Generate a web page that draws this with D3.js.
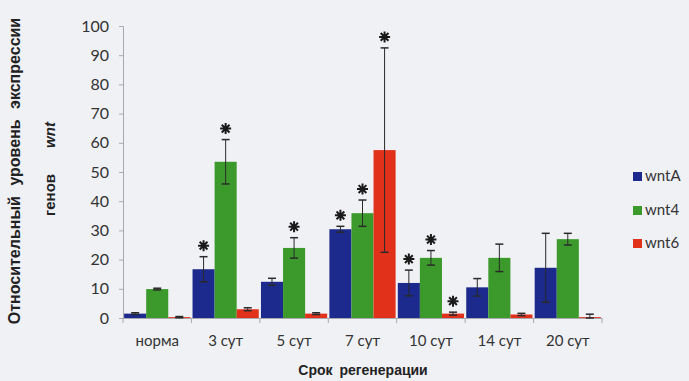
<!DOCTYPE html>
<html><head><meta charset="utf-8">
<script src="https://cdn.jsdelivr.net/npm/d3@7"></script>
<style>body{margin:0;background:#f0f1f5}svg{display:block}</style>
</head><body>
<script>
const categories = ["норма","3 сут","5 сут","7 сут","10 сут","14 сут","20 сут"];
const seriesNames = ["wntA","wnt4","wnt6"];
const wntA = [1.5, 16.7, 12.4, 30.4, 12, 10.5, 17.2];
const wntAerr = [0.3, 4.3, 1.2, 1, 4.4, 3, 11.8];
const wnt4 = [9.9, 53.5, 24, 35.9, 20.6, 20.6, 27];
const wnt4err = [0.3, 7.6, 3.5, 4.5, 2.5, 4.7, 2];
const wnt6 = [0.3, 3, 1.5, 57.5, 1.5, 1.2, 0.3];
const wnt6err = [0.2, 0.5, 0.3, 35, 0.5, 0.4, 1];
const wntAstar = [0,1,0,1,1,0,0];
const wnt4star = [0,1,1,1,1,0,0];
const wnt6star = [0,0,0,1,1,0,0];
const yTicks = [0,10,20,30,40,50,60,70,80,90,100];
const colors = ["#1b2a8c","#3c9a2c","#e2311b"];

const series = [
  {name: seriesNames[0], v: wntA, e: wntAerr, s: wntAstar},
  {name: seriesNames[1], v: wnt4, e: wnt4err, s: wnt4star},
  {name: seriesNames[2], v: wnt6, e: wnt6err, s: wnt6star}
];

const W = 689, H = 381;
const svg = d3.select("body").append("svg").attr("width", W).attr("height", H);
svg.append("rect").attr("width", W).attr("height", H).attr("fill", "#f0f1f5");

const x0 = d3.scaleBand().domain(categories).range([123, 602]).paddingInner(0).paddingOuter(0);
const x1 = d3.scaleBand().domain(seriesNames).range([0, x0.bandwidth()]).paddingOuter(0.05).paddingInner(0);
const y = d3.scaleLinear().domain([0, 100]).range([318, 26]);

// axes
const yAxis = d3.axisLeft(y).tickValues(yTicks).tickSize(4).tickPadding(10);
const gy = svg.append("g").attr("transform", "translate(123,0)").call(yAxis);
gy.select(".domain").attr("stroke", "#a8a8b0");
gy.selectAll(".tick line").attr("stroke", "#a8a8b0");
gy.selectAll(".tick text").attr("font-family", "Lato, sans-serif").attr("font-size", 16).attr("fill", "#333");

const xAxis = d3.axisBottom(x0).tickSize(0).tickPadding(17);
const gx = svg.append("g").attr("transform", "translate(0,318)").call(xAxis);
gx.select(".domain").attr("stroke", "#a8a8b0");
gx.selectAll(".tick text").attr("font-family", "Lato, sans-serif").attr("font-size", 15).attr("fill", "#333");
// category boundary ticks
const bounds = categories.map(c => x0(c)).concat([x0.range()[1]]);
svg.append("g").selectAll("line").data(bounds).join("line")
  .attr("x1", d => d).attr("x2", d => d).attr("y1", 318).attr("y2", 323)
  .attr("stroke", "#a8a8b0");

// bars
const gBars = svg.append("g");
series.forEach((s, si) => {
  const g = gBars.append("g");
  g.selectAll("rect").data(categories).join("rect")
    .attr("x", (c) => x0(c) + x1(s.name))
    .attr("width", x1.bandwidth())
    .attr("y", (c, i) => y(s.v[i]))
    .attr("height", (c, i) => y(0) - y(s.v[i]))
    .attr("fill", colors[si]);
});

// error bars
const capW = 4;
series.forEach((s, si) => {
  const g = svg.append("g").attr("stroke", "#2a2a2a").attr("stroke-width", 1);
  categories.forEach((c, i) => {
    const cx = x0(c) + x1(s.name) + x1.bandwidth() / 2;
    const hi = y(s.v[i] + s.e[i]);
    const lo = y(Math.max(0, s.v[i] - s.e[i]));
    g.append("line").attr("x1", cx).attr("x2", cx).attr("y1", hi).attr("y2", lo);
    g.append("line").attr("x1", cx - capW).attr("x2", cx + capW).attr("y1", hi).attr("y2", hi).attr("stroke-width", 1.5);
    g.append("line").attr("x1", cx - capW).attr("x2", cx + capW).attr("y1", lo).attr("y2", lo).attr("stroke-width", 1.5);
  });
});

// asterisks
const r = 5.5;
const starPath = (cx, cy) => {
  let p = "";
  for (let k = 0; k < 4; k++) {
    const a = k * Math.PI / 4;
    p += `M${cx - r*Math.sin(a)},${cy - r*Math.cos(a)}L${cx + r*Math.sin(a)},${cy + r*Math.cos(a)}`;
  }
  return p;
};
series.forEach((s, si) => {
  categories.forEach((c, i) => {
    if (!s.s[i]) return;
    const cx = x0(c) + x1(s.name) + x1.bandwidth() / 2;
    const cy = y(s.v[i] + s.e[i]) - 11;
    svg.append("path").attr("d", starPath(cx, cy)).attr("stroke", "#1a1a1a").attr("stroke-width", 2).attr("fill", "none");
  });
});

// legend
const legY = [176, 210, 243];
series.forEach((s, si) => {
  svg.append("rect").attr("x", 633).attr("y", legY[si] - 4).attr("width", 9).attr("height", 9).attr("fill", colors[si]);
  svg.append("text").attr("x", 645).attr("y", legY[si] + 5).text(s.name)
    .attr("font-family", "Lato, sans-serif").attr("font-size", 15).attr("fill", "#333");
});

// axis titles
svg.append("text").attr("transform", "translate(20,171) rotate(-90)")
  .attr("text-anchor", "middle").attr("font-family", "Liberation Sans, Arial, sans-serif")
  .attr("font-weight", "bold").attr("font-size", 16).attr("fill", "#222")
  .attr("word-spacing", 6)
  .text("Относительный уровень экспрессии");
svg.append("text").attr("transform", "translate(55,195) rotate(-90)")
  .attr("text-anchor", "middle").attr("font-family", "Liberation Sans, Arial, sans-serif")
  .attr("font-weight", "bold").attr("font-size", 15).attr("fill", "#222")
  .text("генов");
svg.append("text").attr("transform", "translate(55,135) rotate(-90)")
  .attr("text-anchor", "middle").attr("font-family", "Liberation Sans, Arial, sans-serif")
  .attr("font-weight", "bold").attr("font-style", "italic").attr("font-size", 15).attr("fill", "#222")
  .text("wnt");
svg.append("text").attr("x", 363).attr("y", 375)
  .attr("text-anchor", "middle").attr("font-family", "Liberation Sans, Arial, sans-serif")
  .attr("font-weight", "bold").attr("font-size", 14).attr("fill", "#222")
  .attr("word-spacing", 3)
  .text("Срок регенерации");
</script>
</body></html>
